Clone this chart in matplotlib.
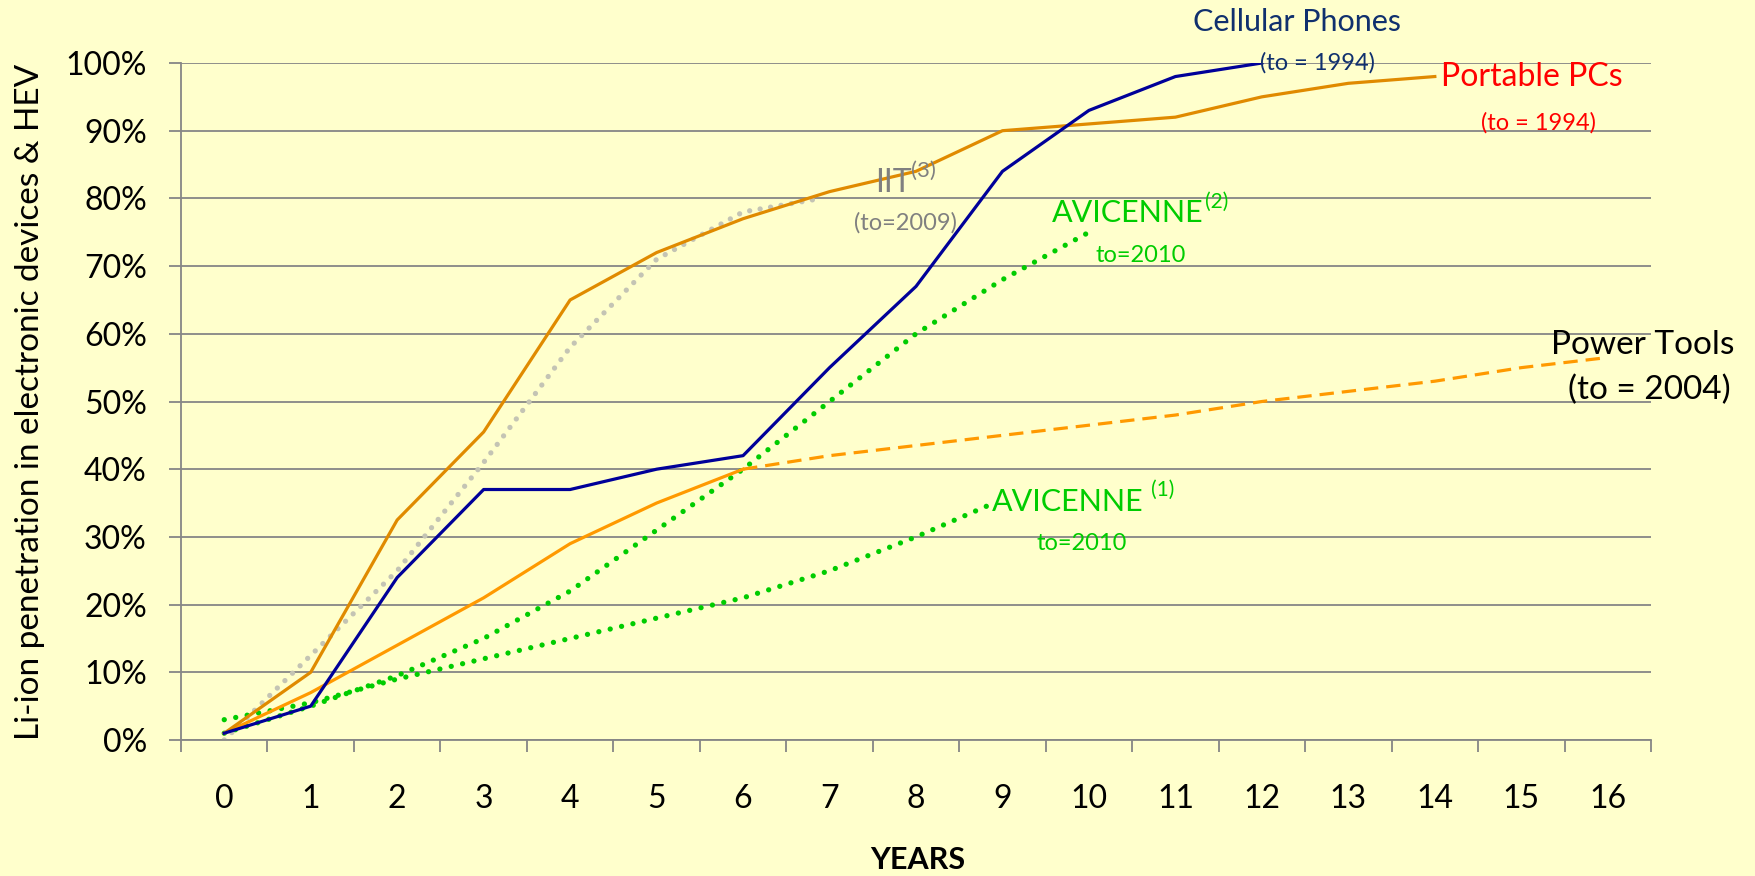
import matplotlib.pyplot as plt
import numpy as np

plt.rcParams['font.family'] = ['Lato', 'DejaVu Sans']

years = np.arange(17)

# values (fraction of 1)
cellular = [0.01, 0.05, 0.24, 0.37, 0.37, 0.40, 0.42, 0.55, 0.67, 0.84, 0.93, 0.98, 1.00]
portable = [0.01, 0.10, 0.325, 0.455, 0.65, 0.72, 0.77, 0.81, 0.84, 0.90, 0.91, 0.92, 0.95, 0.97, 0.98]
power_tools = [0.01, 0.07, 0.14, 0.21, 0.29, 0.35, 0.40, 0.42, 0.435, 0.45, 0.465,
               0.48, 0.50, 0.515, 0.53, 0.55, 0.565]
iit_x = [0, 1, 2, 3, 4, 5, 6, 6.9]
iit = [0.0, 0.125, 0.25, 0.41, 0.58, 0.71, 0.78, 0.80]
avicenne2_x = [0, 1, 2, 3, 4, 5, 6, 7, 8, 9, 10]
avicenne2 = [0.01, 0.05, 0.095, 0.15, 0.22, 0.31, 0.40, 0.50, 0.60, 0.68, 0.75]
avicenne1_x = [0, 1, 2, 3, 4, 5, 6, 7, 8, 8.9]
avicenne1 = [0.03, 0.055, 0.09, 0.12, 0.15, 0.18, 0.21, 0.25, 0.30, 0.35]

bg = '#FFFFCC'
grid_c = '#868686'


def main():
    fig = plt.figure(figsize=(17.55, 8.76), dpi=100, facecolor=bg)
    ax = fig.add_axes([181 / 1755, 1 - 740 / 876, 1470 / 1755, 677 / 876])
    ax.set_facecolor(bg)

    # dotted series
    dots = dict(linewidth=3.8, dash_capstyle='round')
    ax.plot(iit_x, iit, color='#C4C4B4', linestyle=(0, (0.01, 2.0)), **dots)
    ax.plot(avicenne2_x, avicenne2, color='#00CC00', linestyle=(0, (0.01, 2.2)), **dots)
    ax.plot(avicenne1_x, avicenne1, color='#00CC00', linestyle=(0, (0.01, 2.2)), **dots)

    # power tools: solid then dashed
    ax.plot(years[:7], power_tools[:7], color='#FF9900', linewidth=2.3)
    ax.plot(years[6:], power_tools[6:], color='#FF9900', linewidth=2.3,
            linestyle=(0, (4.5, 2.5)))

    ax.plot(years[:len(portable)], portable, color='#E08A00', linewidth=2.3)
    ax.plot(years[:len(cellular)], cellular, color='#000099', linewidth=2.3)

    # axes
    ax.set_xlim(-0.5, 16.5)
    ax.set_ylim(0, 1)
    ax.set_xticks(np.arange(-0.5, 17, 1))
    ax.set_xticklabels([])
    ax.set_xticks(years, minor=True)
    ax.set_xticklabels([str(y) for y in years], minor=True, fontsize=23)
    ax.tick_params(axis='x', which='major', length=8.6, width=1.3, color=grid_c, direction='out')
    ax.tick_params(axis='x', which='minor', length=0, pad=32)
    ax.set_yticks(np.arange(0, 1.01, 0.1))
    ax.set_yticklabels([f'{int(round(v * 100))}%' for v in np.arange(0, 1.01, 0.1)], fontsize=23)
    ax.tick_params(axis='y', length=8.6, width=1.3, color=grid_c, pad=16)
    ax.yaxis.grid(True, color=grid_c, linewidth=1.3)
    ax.set_axisbelow(True)
    for s in ['top', 'right']:
        ax.spines[s].set_visible(False)
    for s in ['left', 'bottom']:
        ax.spines[s].set_color(grid_c)
        ax.spines[s].set_linewidth(1.3)

    ax.set_ylabel('Li-ion penetration in electronic devices & HEV', fontsize=24)
    ax.yaxis.set_label_coords(-136 / 1470, 0.5)
    fig.text(918 / 1755, 1 - 860 / 876, 'YEARS', fontsize=22, fontweight='bold',
             ha='center', va='center')

    # series labels
    ax.text(12.41, 1.061, 'Cellular Phones', color='#10306E', fontsize=22, ha='center', va='center')
    ax.text(12.64, 1.001, '(to = 1994)', color='#10306E', fontsize=17, ha='center', va='center')
    ax.text(15.12, 0.979, 'Portable PCs', color='#FF0000', fontsize=23, ha='center', va='center')
    ax.text(15.20, 0.911, '(to = 1994)', color='#FF0000', fontsize=17, ha='center', va='center')

    ax.text(7.53, 0.823, 'IIT', color='#808080', fontsize=23, ha='left', va='center')
    ax.text(7.94, 0.84, '(3)', color='#808080', fontsize=16, ha='left', va='center')
    ax.text(7.88, 0.764, '(to=2009)', color='#808080', fontsize=17, ha='center', va='center')

    ax.text(9.57, 0.778, 'AVICENNE', color='#00CC00', fontsize=22, ha='left', va='center')
    ax.text(11.34, 0.795, '(2)', color='#00CC00', fontsize=15, ha='left', va='center')
    ax.text(10.60, 0.716, 'to=2010', color='#00CC00', fontsize=17, ha='center', va='center')

    ax.text(8.88, 0.352, 'AVICENNE', color='#00CC00', fontsize=22, ha='left', va='center')
    ax.text(10.72, 0.37, '(1)', color='#00CC00', fontsize=15, ha='left', va='center')
    ax.text(9.92, 0.29, 'to=2010', color='#00CC00', fontsize=17, ha='center', va='center')

    ax.text(16.40, 0.583, 'Power Tools', color='black', fontsize=24, ha='center', va='center')
    ax.text(16.48, 0.517, '(to = 2004)', color='black', fontsize=24, ha='center', va='center')

    fig.savefig('out.png', dpi=100, facecolor=bg)


if __name__ == "__main__":
    main()
